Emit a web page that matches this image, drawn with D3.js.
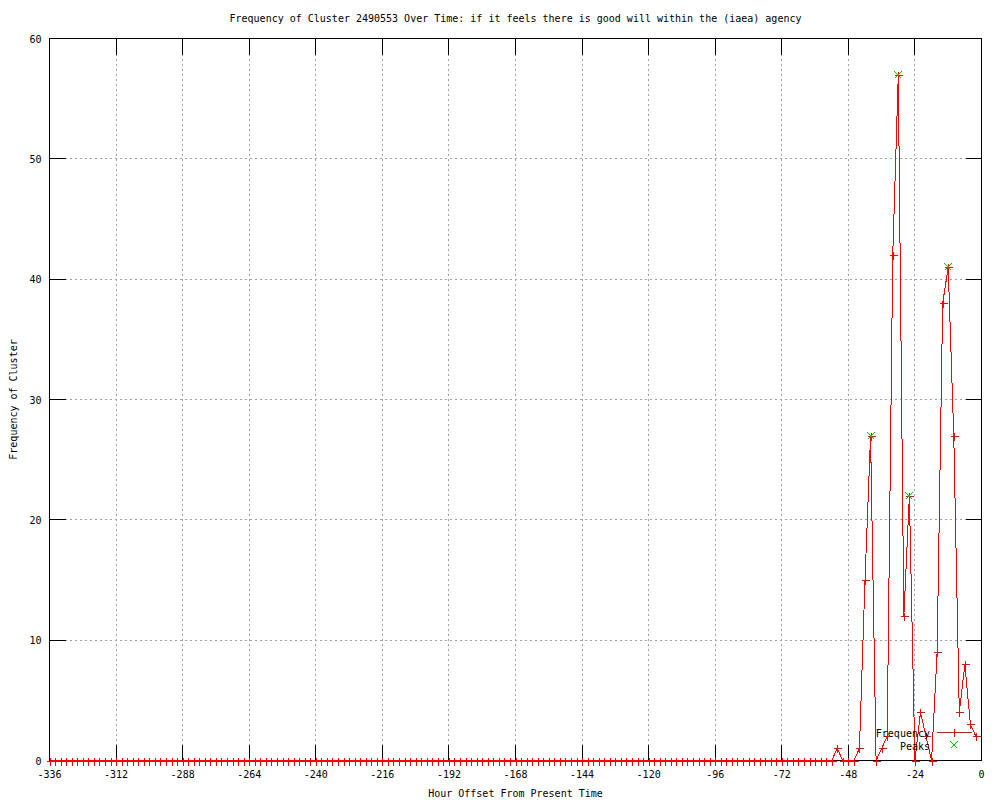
<!DOCTYPE html>
<html>
<head>
<meta charset="utf-8">
<script src="https://cdn.jsdelivr.net/npm/d3@7"></script>
<style>
  body { margin: 0; background: #fff; }
  text { font-family: "DejaVu Sans Mono", monospace; font-size: 10px; fill: #000; }
</style>
</head>
<body>
<svg id="chart" width="1000" height="800"></svg>
<script>
const titleText = "Frequency of Cluster 2490553 Over Time: if it feels there is good will within the (iaea) agency";

// hour offsets, every 2 hours from -336 to -2
const hours = d3.range(-336, 0, 2);

// frequency per hour offset (same order as hours)
const counts = [
  0, 0, 0, 0, 0, 0, 0, 0, 0, 0,
  0, 0, 0, 0, 0, 0, 0, 0, 0, 0,
  0, 0, 0, 0, 0, 0, 0, 0, 0, 0,
  0, 0, 0, 0, 0, 0, 0, 0, 0, 0,
  0, 0, 0, 0, 0, 0, 0, 0, 0, 0,
  0, 0, 0, 0, 0, 0, 0, 0, 0, 0,
  0, 0, 0, 0, 0, 0, 0, 0, 0, 0,
  0, 0, 0, 0, 0, 0, 0, 0, 0, 0,
  0, 0, 0, 0, 0, 0, 0, 0, 0, 0,
  0, 0, 0, 0, 0, 0, 0, 0, 0, 0,
  0, 0, 0, 0, 0, 0, 0, 0, 0, 0,
  0, 0, 0, 0, 0, 0, 0, 0, 0, 0,
  0, 0, 0, 0, 0, 0, 0, 0, 0, 0,
  0, 0, 0, 0, 0, 0, 0, 0, 0, 0,
  0, 0, 1, 0, 0, 0, 1, 15, 27, 0,
  1, 2, 42, 57, 12, 22, 0, 4, 2, 0,
  9, 38, 41, 27, 4, 8, 3, 2
];

const peakHours = [-40, -30, -26, -12];
const peakValues = [27, 57, 22, 41];

const xTicks = [-336, -312, -288, -264, -240, -216, -192, -168, -144, -120, -96, -72, -48, -24, 0];
const yTicks = [0, 10, 20, 30, 40, 50, 60];

const svg = d3.select("#chart");
const margin = { top: 38.5, right: 18.5, bottom: 39.5, left: 49.5 };
const width = 1000, height = 800;

const x = d3.scaleLinear().domain([-336, 0]).range([margin.left, width - margin.right]);
const y = d3.scaleLinear().domain([0, 60]).range([height - margin.bottom, margin.top]);

const data = hours.map((h, i) => ({ h, v: counts[i] }));
const peaks = peakHours.map((h, i) => ({ h, v: peakValues[i] }));

// grid
const grid = svg.append("g").attr("stroke", "#a0a0a0").attr("stroke-dasharray", "2,3").attr("shape-rendering", "crispEdges");
xTicks.slice(1, -1).forEach(t => {
  grid.append("line").attr("x1", x(t)).attr("x2", x(t)).attr("y1", y(0)).attr("y2", y(60));
});
yTicks.slice(1, -1).forEach(t => {
  grid.append("line").attr("x1", x(-336)).attr("x2", x(0)).attr("y1", y(t)).attr("y2", y(t));
});

// ticks (mirrored on all sides)
const ticks = svg.append("g").attr("stroke", "#000").attr("shape-rendering", "crispEdges");
const tl = 16;
xTicks.forEach(t => {
  ticks.append("line").attr("x1", x(t)).attr("x2", x(t)).attr("y1", y(0)).attr("y2", y(0) - tl);
  ticks.append("line").attr("x1", x(t)).attr("x2", x(t)).attr("y1", y(60)).attr("y2", y(60) + tl);
});
yTicks.forEach(t => {
  ticks.append("line").attr("x1", x(-336)).attr("x2", x(-336) + tl).attr("y1", y(t)).attr("y2", y(t));
  ticks.append("line").attr("x1", x(0)).attr("x2", x(0) - tl).attr("y1", y(t)).attr("y2", y(t));
});

// border
svg.append("rect")
  .attr("x", x(-336)).attr("y", y(60))
  .attr("width", x(0) - x(-336)).attr("height", y(0) - y(60))
  .attr("fill", "none").attr("stroke", "#000").attr("shape-rendering", "crispEdges");

// tick labels
svg.append("g").selectAll("text").data(xTicks).enter().append("text")
  .attr("x", d => x(d)).attr("y", y(0) + 17)
  .attr("text-anchor", "middle")
  .text(d => d);
svg.append("g").selectAll("text").data(yTicks).enter().append("text")
  .attr("x", x(-336) - 8).attr("y", d => y(d) + 4)
  .attr("text-anchor", "end")
  .text(d => d);

// titles
svg.append("text").attr("x", (x(-336) + x(0)) / 2).attr("y", 22)
  .attr("text-anchor", "middle").text(titleText);
svg.append("text").attr("x", (x(-336) + x(0)) / 2).attr("y", 797)
  .attr("text-anchor", "middle").text("Hour Offset From Present Time");
svg.append("text")
  .attr("transform", `translate(17, ${(y(0) + y(60)) / 2}) rotate(-90)`)
  .attr("text-anchor", "middle").text("Frequency of Cluster");

// frequency line
const line = d3.line().x(d => x(d.h)).y(d => y(d.v));
svg.append("path").datum(data)
  .attr("d", line).attr("fill", "none").attr("stroke", "#ff0000").attr("stroke-width", 1)
  .attr("shape-rendering", "crispEdges");

function plus(g, cx, cy, r, color) {
  g.append("path")
    .attr("d", `M${cx - r},${cy}H${cx + r}M${cx},${cy - r}V${cy + r}`)
    .attr("stroke", color).attr("fill", "none").attr("shape-rendering", "crispEdges");
}
function cross(g, cx, cy, r, color) {
  g.append("path")
    .attr("d", `M${cx - r},${cy - r}L${cx + r},${cy + r}M${cx - r},${cy + r}L${cx + r},${cy - r}`)
    .attr("stroke", color).attr("fill", "none").attr("shape-rendering", "crispEdges");
}

const marks = svg.append("g");
data.forEach(d => plus(marks, Math.round(x(d.h)) + 0.5, Math.round(y(d.v)) + 0.5, 4, "#ff0000"));
const pk = svg.append("g");
peaks.forEach(d => cross(pk, Math.round(x(d.h)), Math.round(y(d.v)), 3.5, "#00c000"));

// legend
const lg = svg.append("g");
lg.append("text").attr("x", 930).attr("y", 737).attr("text-anchor", "end").text("Frequency");
lg.append("line").attr("x1", 937).attr("x2", 972).attr("y1", 732.5).attr("y2", 732.5)
  .attr("stroke", "#ff0000").attr("shape-rendering", "crispEdges");
plus(lg, 954.5, 732.5, 4, "#ff0000");
lg.append("text").attr("x", 930).attr("y", 750).attr("text-anchor", "end").text("Peaks");
cross(lg, 954, 745, 3.5, "#00c000");
</script>
</body>
</html>
